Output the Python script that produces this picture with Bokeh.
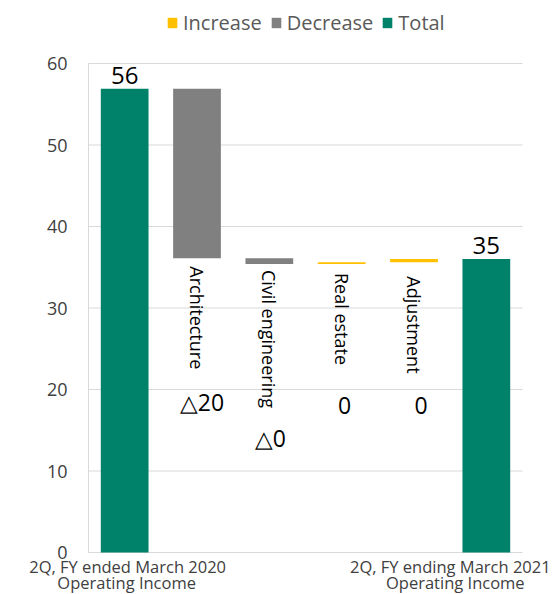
import math
import numpy as np
from bokeh.plotting import figure
from bokeh.models import (ColumnDataSource, LabelSet, Legend, LegendItem, Range1d)
from bokeh.core.properties import value
from bokeh.embed import file_html
from bokeh.resources import INLINE

# ---------------- data ----------------
start_key = "FY2020"
end_key = "FY2021"
step_names = ["Architecture", "Civil engineering", "Real estate", "Adjustment"]
start_total = 56.9
changes = [-20.8, -0.7, 0.2, 0.4]
change_labels = ["△20", "△0", "0", "0"]
total_labels = ["56", "35"]
start_label_lines = ["2Q, FY ended March 2020", "Operating Income"]
end_label_lines = ["2Q, FY ending March 2021", "Operating Income"]
legend_labels = ["Increase", "Decrease", "Total"]
y_ticks = [0, 10, 20, 30, 40, 50, 60]

# ---------------- styles / layout ----------------
GREEN = "#00826A"
GRAY = "#808080"
YELLOW = "#FFC000"
GRID = "#D9D9D9"
FONT = "Open Sans"
W, H = 554, 594
PLOT_LEFT, PLOT_RIGHT = 88, 522          # pixel columns of the category area
AXIS_TOP_PX, AXIS_ZERO_PX = 63, 552      # pixel rows of 60 and 0
factors = [start_key] + step_names + [end_key]
n = len(factors)
PPX = (PLOT_RIGHT - PLOT_LEFT) / n
PPU = (AXIS_ZERO_PX - AXIS_TOP_PX) / (y_ticks[-1] - y_ticks[0])
pos = {f: i + 0.5 for i, f in enumerate(factors)}

levels = list(start_total + np.cumsum(changes))
end_total = levels[-1]
prev = [start_total] + levels[:-1]

inc = dict(x=[], top=[], bottom=[])
dec = dict(x=[], top=[], bottom=[])
for name, p0, p1, c in zip(step_names, prev, levels, changes):
    d = inc if c > 0 else dec
    d["x"].append(pos[name])
    d["top"].append(max(p0, p1))
    d["bottom"].append(min(p0, p1))
tot = dict(x=[pos[start_key], pos[end_key]], top=[start_total, end_total], bottom=[0, 0])

p = figure(width=W, height=H, output_backend="svg", toolbar_location=None,
           x_range=Range1d(-PLOT_LEFT / PPX, n + (W - PLOT_RIGHT) / PPX),
           y_range=Range1d(-(H - AXIS_ZERO_PX) / PPU, AXIS_ZERO_PX / PPU),
           x_axis_location=None, y_axis_location=None,
           min_border=0)
p.outline_line_color = None
p.grid.visible = False
p.background_fill_color = "white"
p.border_fill_color = "white"

# gridlines and axis line
p.segment(x0=[0] * len(y_ticks), x1=[n] * len(y_ticks), y0=y_ticks, y1=y_ticks,
          line_color=GRID, line_width=1)
p.segment(x0=[0], x1=[0], y0=[y_ticks[0]], y1=[y_ticks[-1]], line_color=GRID, line_width=1)

r_tot = p.vbar(x="x", top="top", bottom="bottom", width=0.66, source=ColumnDataSource(tot),
               fill_color=GREEN, line_color=None)
r_dec = p.vbar(x="x", top="top", bottom="bottom", width=0.66, source=ColumnDataSource(dec),
               fill_color=GRAY, line_color=None)
r_inc = p.vbar(x="x", top="top", bottom="bottom", width=0.66, source=ColumnDataSource(inc),
               fill_color=YELLOW, line_color=None)

# y tick labels
p.add_layout(LabelSet(x="x", y="y", text="text", x_offset=-21,
                      source=ColumnDataSource(dict(x=[0] * len(y_ticks), y=y_ticks,
                                                   text=[str(t) for t in y_ticks])),
                      text_align="right", text_baseline="middle",
                      text_font=value(FONT), text_font_size="18px", text_color="#404040"))

# total value labels
p.add_layout(LabelSet(x="x", y="top", text="text", y_offset=5,
                      source=ColumnDataSource(dict(x=tot["x"], top=tot["top"],
                                                   text=total_labels)),
                      text_align="center", text_baseline="alphabetic",
                      text_font=value(FONT), text_font_size="24px", text_color="#000000"))

# rotated category labels
step_x = [pos[s] for s in step_names]
step_bottom = [min(a, b) for a, b in zip(prev, levels)]
p.add_layout(LabelSet(x="x", y="y", text="text", y_offset="dy", angle=-math.pi / 2,
                      source=ColumnDataSource(dict(x=step_x, y=step_bottom,
                                                   text=step_names,
                                                   dy=[-8, -6, -9, -14])),
                      text_align="left", text_baseline="middle",
                      text_font=value(FONT), text_font_size="18px", text_color="#000000"))

# change value labels
p.add_layout(LabelSet(x="x", y="y", text="text", y_offset="dy", x_offset="dx",
                      source=ColumnDataSource(dict(x=step_x, y=step_bottom,
                                                   text=change_labels,
                                                   dy=[-144, -174, -142, -143],
                                                   dx=[5, 1, 3, 7])),
                      text_align="center", text_baseline="middle",
                      text_font=value(FONT), text_font_size="23px", text_color="#000000"))

# bottom category labels
p.add_layout(LabelSet(x="x", y="y", text="text", y_offset="dy", x_offset="dx",
                      source=ColumnDataSource(dict(
                          x=[pos[start_key]] * 2 + [pos[end_key]] * 2,
                          y=[0, 0, 0, 0],
                          text=start_label_lines + end_label_lines,
                          dy=[-20, -36.5, -20, -36.5],
                          dx=[3, 2, -36, -31])),
                      text_align="center", text_baseline="alphabetic",
                      text_font=value(FONT), text_font_size="16.5px", text_color="#404040"))

legend = Legend(items=[LegendItem(label=legend_labels[0], renderers=[r_inc]),
                       LegendItem(label=legend_labels[1], renderers=[r_dec]),
                       LegendItem(label=legend_labels[2], renderers=[r_tot])],
                orientation="horizontal", location=(166, H - 10 - 26),
                glyph_width=12, glyph_height=13, label_standoff=5, spacing=8,
                padding=0, margin=0, border_line_color=None, background_fill_alpha=0,
                label_text_font=FONT, label_text_font_size="20px",
                label_text_color="#595959")
p.add_layout(legend)

open("out.html", "w").write(file_html(p, INLINE))
